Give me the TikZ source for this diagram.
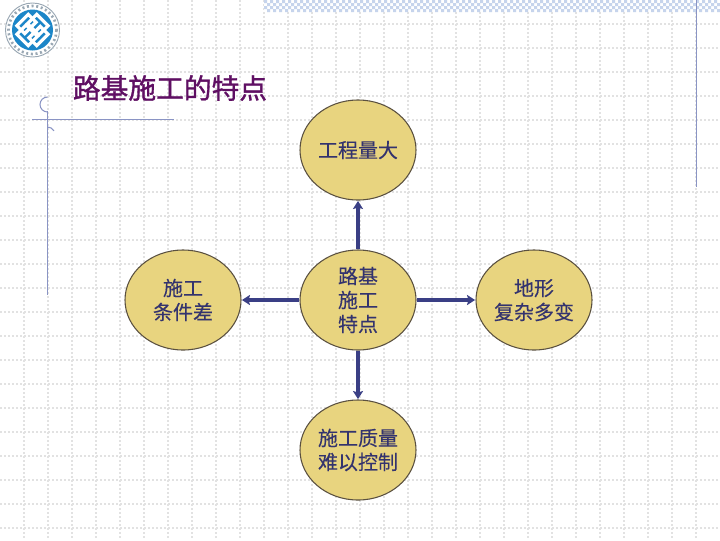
\documentclass[tikz,border=0pt]{standalone}
\usepackage{fontspec}
\setmainfont{Noto Sans CJK SC}
\newfontfamily\boldcjk[FakeBold=1.2]{Noto Sans CJK SC}
\newfontfamily\semicjk[FakeBold=0.25]{Noto Sans CJK SC}
\usetikzlibrary{arrows.meta,shapes.geometric}
\definecolor{gridc}{HTML}{E2E2E2}
\definecolor{rulec}{HTML}{8A94C4}
\definecolor{bandc}{HTML}{C6D4EC}
\definecolor{fillc}{HTML}{E8D47F}
\definecolor{edgec}{HTML}{5A5040}
\definecolor{navyc}{HTML}{3A3F85}
\definecolor{textc}{HTML}{33336E}
\definecolor{titlec}{HTML}{5F0F63}
\definecolor{logob}{HTML}{1C86C8}
\definecolor{logor}{HTML}{9AA8B4}
\tikzset{
  gridline/.style={gridc,line width=0.8pt,dash pattern=on 1.5pt off 1.5pt},
  rulel/.style={rulec,line width=0.8pt},
  oval/.style={ellipse,draw=edgec,fill=fillc,line width=0.8pt,minimum width=87pt,minimum height=75pt,inner sep=0pt,align=center,text=textc,font=\semicjk\fontsize{15pt}{18pt}\selectfont},
  conn/.style={navyc,line width=2.6pt,-{Stealth[length=6pt,width=7.5pt,inset=1pt]},shorten >=0.3pt}
}
\begin{document}
\begin{tikzpicture}[x=0.75pt,y=-0.75pt]
\useasboundingbox (0,0) rectangle (720,540);
\fill[white] (0,0) rectangle (720,540);
% background grid
\foreach \k in {1,...,29} {\draw[gridline] (24*\k,0) -- (24*\k,540);}
\foreach \k in {1,...,22} {\draw[gridline] (0,24*\k) -- (720,24*\k);}
% top band
\fill[white] (264,0) rectangle (720,12);
\foreach \r in {0,1,2,3} {
  \pgfmathsetmacro{\off}{mod(\r,2)*3}
  \fill[bandc] \foreach \c in {0,...,75} { (264+\off+6*\c,3*\r) rectangle +(3,3) };
}
% rules
\draw[rulel] (696.5,0) -- (696.5,187);
\draw[rulel] (47.5,111) -- (47.5,295);
\draw[rulel] (32,119.5) -- (174,119.5);
\draw[rulel] (47.5,112) arc[start angle=90,end angle=270,radius=7.5];
\draw[rulel] (47.5,127) arc[start angle=270,end angle=330,radius=7.5];
% logo
\fill[white] (32.5,30) circle[radius=27.5];
\draw[logor,line width=0.7pt] (32.5,30) circle[radius=27];
\draw[logor,line width=2pt,dash pattern=on 1.5pt off 2pt] (32.5,30) circle[radius=24];
\fill[logob] (32.5,30) circle[radius=20.5];
\begin{scope}[shift={(32.5,30)},rotate=45,white,line width=2.4pt]
  \draw (-14,-8) rectangle (-1,8);
  \draw (1,-8) rectangle (14,8);
  \draw (-8,-14) rectangle (8,-3);
  \draw (-8,3) rectangle (8,14);
\end{scope}
% title
\node[anchor=center,text=titlec,font=\boldcjk\fontsize{20.8pt}{24pt}\selectfont,inner sep=0pt] (title) at (170,88) {路基施工的特点};
% nodes
\node[oval] (top) at (358,150) {工程量大};
\node[oval] (mid) at (358,300) {路基\\施工\\特点};
\node[oval] (left) at (183,300) {施工\\条件差};
\node[oval] (right) at (534,300) {地形\\复杂多变};
\node[oval] (bottom) at (358,450) {施工质量\\难以控制};
% connectors
\draw[conn] (mid) -- (top);
\draw[conn] (mid) -- (left);
\draw[conn] (mid) -- (right);
\draw[conn] (mid) -- (bottom);
\end{tikzpicture}
\end{document}
